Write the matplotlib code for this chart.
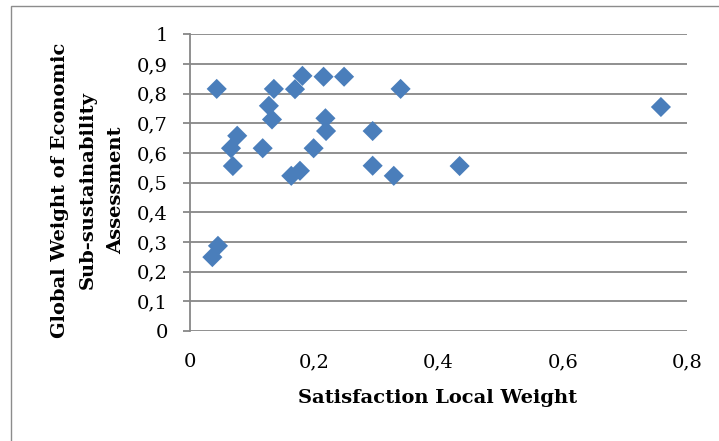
import matplotlib
matplotlib.use("Agg")
import matplotlib.pyplot as plt
from matplotlib.patches import Rectangle
from matplotlib.ticker import FuncFormatter, MultipleLocator

# Satisfaction local weight vs. global weight of the economic sub-sustainability assessment
satisfaction_local = [0.043, 0.135, 0.169, 0.181, 0.215, 0.248, 0.339, 0.127,
                      0.132, 0.218, 0.219, 0.294, 0.076, 0.066, 0.117, 0.199,
                      0.069, 0.294, 0.163, 0.177, 0.328, 0.045, 0.036, 0.434,
                      0.758]
global_weight = [0.816, 0.816, 0.815, 0.860, 0.857, 0.857, 0.816, 0.759,
                 0.713, 0.717, 0.674, 0.674, 0.658, 0.616, 0.616, 0.616,
                 0.556, 0.557, 0.523, 0.540, 0.523, 0.287, 0.249, 0.556,
                 0.755]

x_label = "Satisfaction Local Weight"
y_label = "Global Weight of Economic\nSub-sustainability\nAssessment"

W, H = 719, 441
fig = plt.figure(figsize=(W / 100, H / 100), dpi=100)

# outer chart-area border
fig.patches.append(Rectangle((11 / W, -0.05), 1.2, 1 - 6 / H + 0.05,
                             transform=fig.transFigure, fill=False,
                             edgecolor="#8c8c8c", linewidth=1.0))

left, right = 190 / W, 687 / W
bottom, top = 1 - 331 / H, 1 - 34.3 / H
ax = fig.add_axes([left, bottom, right - left, top - bottom])

ax.scatter(satisfaction_local, global_weight, marker="D", s=105,
           color="#4A7EBB", edgecolors="none", zorder=3)

ax.set_xlim(0, 0.8)
ax.set_ylim(0, 1)
ax.xaxis.set_major_locator(MultipleLocator(0.2))
ax.yaxis.set_major_locator(MultipleLocator(0.1))

comma = FuncFormatter(lambda v, p: ("%g" % round(v, 2)).replace(".", ","))
ax.xaxis.set_major_formatter(comma)
ax.yaxis.set_major_formatter(comma)

ax.grid(axis="y", color="#878787", linewidth=1.3, zorder=0)
ax.set_axisbelow(True)
for s in ["top", "right", "bottom"]:
    ax.spines[s].set_visible(False)
ax.spines["left"].set_color("#878787")
ax.spines["left"].set_linewidth(1.3)

font = "DejaVu Serif"
ax.tick_params(axis="y", length=5, width=1.3, color="#878787", pad=11,
               labelsize=14, labelfontfamily=font)
ax.tick_params(axis="x", length=0, pad=16, labelsize=14,
               labelfontfamily=font)

fig.text(438 / W, 1 - 398 / H, x_label, ha="center", va="center",
         fontsize=14, fontweight="bold", family=font)
fig.text(88 / W, 1 - 190 / H, y_label, ha="center", va="center",
         rotation=90, fontsize=14, fontweight="bold", family=font,
         linespacing=1.7)

fig.savefig("out.png", dpi=100)
